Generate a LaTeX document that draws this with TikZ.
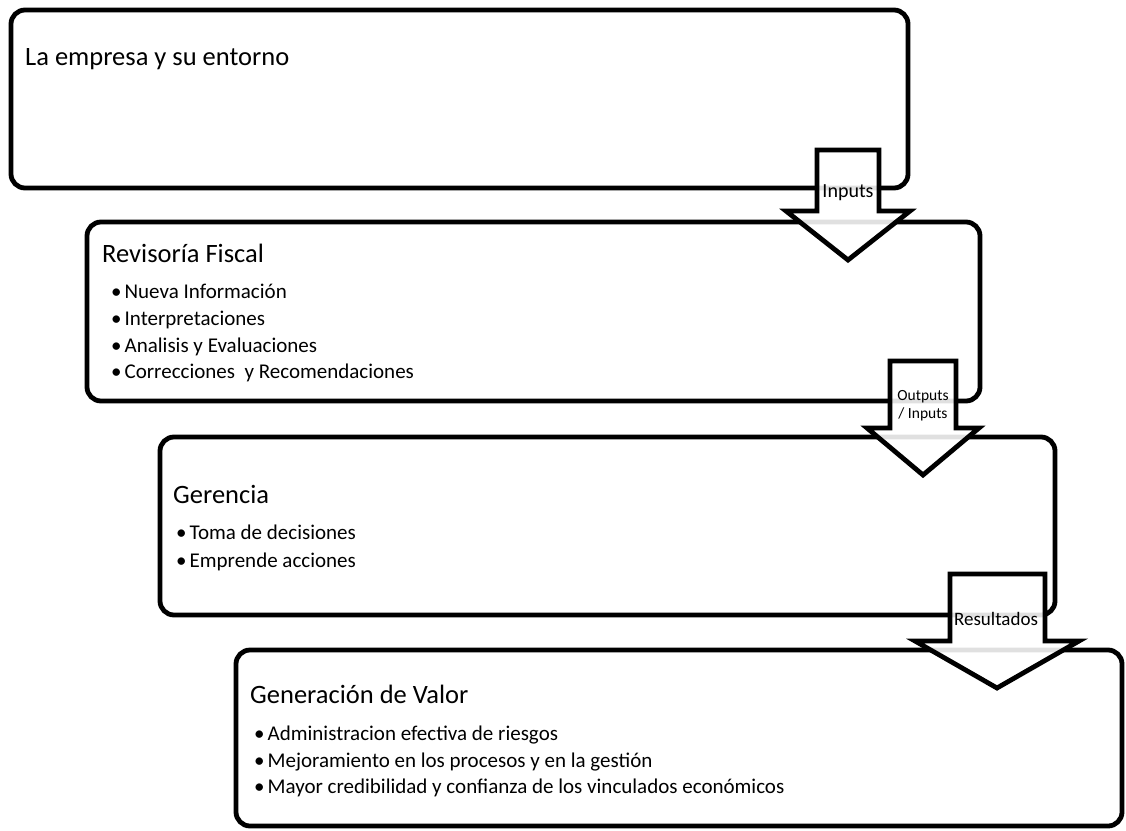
\documentclass[tikz,border=0pt]{standalone}
\usepackage{fontspec}
\setmainfont{Carlito}
\begin{document}
\begin{tikzpicture}[x=1pt,y=-1pt,
  box/.style={draw=black,line width=4.8pt,rounded corners=14pt,fill=white},
  bigarrow/.style={draw=black,line width=4.8pt,line join=miter,fill=white,fill opacity=0.88},
  head/.style={anchor=base west,inner sep=0pt,font=\fontsize{26.5}{30}\selectfont},
  item/.style={anchor=base west,inner sep=0pt,font=\fontsize{21}{24}\selectfont},
  lbl/.style={inner sep=0pt,align=center,anchor=base}]
\useasboundingbox (0,0) rectangle (1126,830);
% boxes
\draw[box] (11,10) rectangle (908,188);
\draw[box] (87,222) rectangle (980,401);
\draw[box] (160,437) rectangle (1055,615);
\draw[box] (236,650) rectangle (1122,826);
% texts
\node[head] (t1) at (25,65) {La empresa y su entorno};
\node[head] (t2) at (102,262) {Revisoría Fiscal};
\node[item] (l21) at (111,298) {\textbullet\hspace{3pt}Nueva Información};
\node[item] (l22) at (111,325) {\textbullet\hspace{3pt}Interpretaciones};
\node[item] (l23) at (111,352) {\textbullet\hspace{3pt}Analisis y Evaluaciones};
\node[item] (l24) at (111,378) {\textbullet\hspace{3pt}Correcciones\ \ y Recomendaciones};
\node[head] (t3) at (173,503) {Gerencia};
\node[item] (l31) at (176,539) {\textbullet\hspace{3pt}Toma de decisiones};
\node[item] (l32) at (176,567) {\textbullet\hspace{3pt}Emprende acciones};
\node[head] (t4) at (250,703) {Generación de Valor};
\node[item] (l41) at (254,740) {\textbullet\hspace{3pt}Administracion efectiva de riesgos};
\node[item] (l42) at (254,767) {\textbullet\hspace{3pt}Mejoramiento en los procesos y en la gestión};
\node[item] (l43) at (254,793) {\textbullet\hspace{3pt}Mayor credibilidad y confianza de los vinculados económicos};
% arrows
\draw[bigarrow] (817,150) -- (879,150) -- (879,211) -- (910,211) -- (848,260) -- (786,211) -- (817,211) -- cycle;
\draw[bigarrow] (890,361) -- (956,361) -- (956,428) -- (979,428) -- (923,475) -- (867,428) -- (890,428) -- cycle;
\draw[bigarrow] (950,574) -- (1045,574) -- (1045,641) -- (1079,641) -- (997,688) -- (915,641) -- (950,641) -- cycle;
\node[lbl,font=\fontsize{20}{22}\selectfont] (a1) at (848,197) {Inputs};
\node[lbl,font=\fontsize{15.5}{18}\selectfont] (a2) at (923,400) {Outputs};
\node[lbl,font=\fontsize{15.5}{18}\selectfont] (a2b) at (923,418) {/ Inputs};
\node[lbl,font=\fontsize{19}{22}\selectfont] (a3) at (996,625) {Resultados};
\end{tikzpicture}
\end{document}
